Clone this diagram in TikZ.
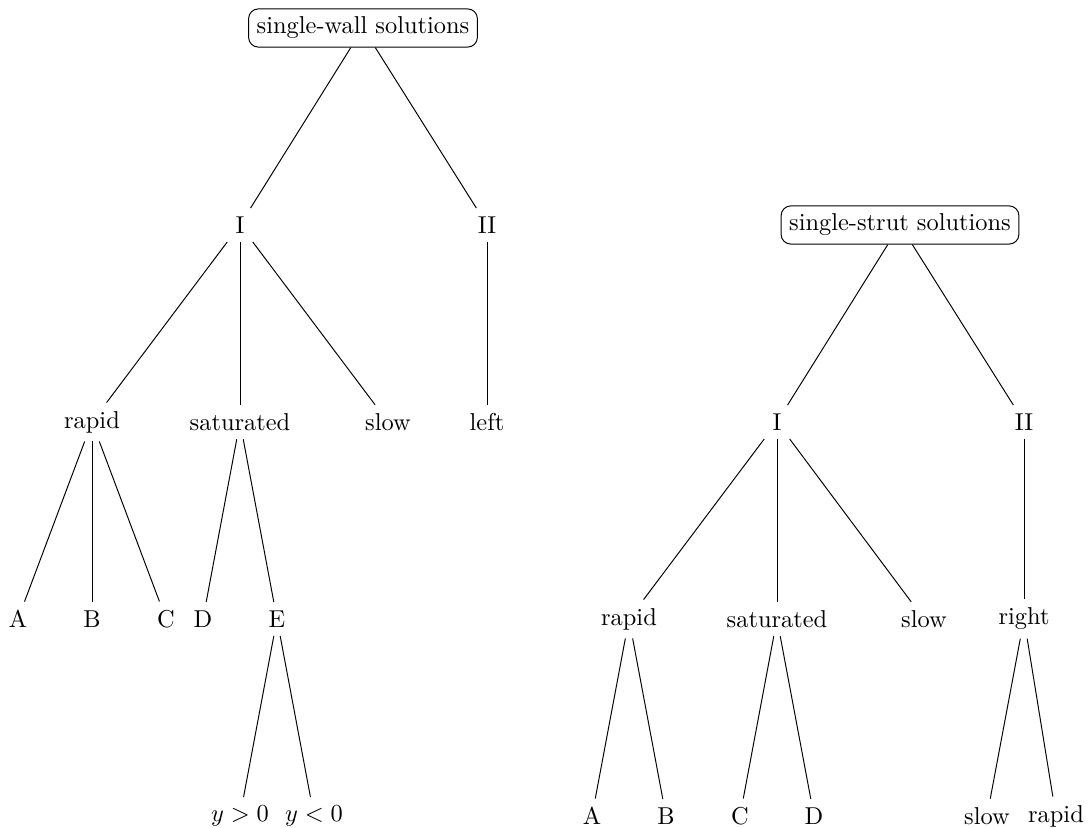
\documentclass[tikz,border=0pt]{standalone}
\begin{document}
\begin{tikzpicture}[x=0.4098pt,y=-0.4098pt,
  rootbox/.style={draw,rounded corners=4pt,inner sep=0.333em},
  lbl/.style={inner sep=0.333em},
  conn/.style={line width=0.4pt}]
\useasboundingbox (0,0) rectangle (1091,828);
% left tree
\node[rootbox] (wroot) at (363,28) {single-wall solutions};
\node[lbl] (wI) at (240,225) {I};
\node[lbl] (wII) at (487,225) {II};
\node[lbl] (wrapid) at (92,422) {rapid};
\node[lbl] (wsat) at (240,422) {saturated};
\node[lbl] (wslow) at (388,422) {slow};
\node[lbl] (wleft) at (487,422) {left};
\node[lbl] (wA) at (18,619) {A};
\node[lbl] (wB) at (92,619) {B};
\node[lbl] (wC) at (166,619) {C};
\node[lbl] (wD) at (203,619) {D};
\node[lbl] (wE) at (277,619) {E};
\node[lbl] (wyp) at (240,816) {$y>0$};
\node[lbl] (wyn) at (314,816) {$y<0$};
\draw[conn] (wroot) -- (wI);
\draw[conn] (wroot) -- (wII);
\draw[conn] (wI) -- (wrapid);
\draw[conn] (wI) -- (wsat);
\draw[conn] (wI) -- (wslow);
\draw[conn] (wII) -- (wleft);
\draw[conn] (wrapid) -- (wA);
\draw[conn] (wrapid) -- (wB);
\draw[conn] (wrapid) -- (wC);
\draw[conn] (wsat) -- (wD);
\draw[conn] (wsat) -- (wE);
\draw[conn] (wE) -- (wyp);
\draw[conn] (wE) -- (wyn);
% right tree
\node[rootbox] (sroot) at (900,225) {single-strut solutions};
\node[lbl] (sI) at (777,422) {I};
\node[lbl] (sII) at (1024,422) {II};
\node[lbl] (srapid) at (629,619) {rapid};
\node[lbl] (ssat) at (777,619) {saturated};
\node[lbl] (sslow) at (924,619) {slow};
\node[lbl] (sright) at (1024,619) {right};
\node[lbl] (sA) at (592,816) {A};
\node[lbl] (sB) at (666,816) {B};
\node[lbl] (sC) at (740,816) {C};
\node[lbl] (sD) at (814,816) {D};
\node[lbl] (sslow2) at (987,816) {slow};
\node[lbl] (srapid2) at (1056,816) {rapid};
\draw[conn] (sroot) -- (sI);
\draw[conn] (sroot) -- (sII);
\draw[conn] (sI) -- (srapid);
\draw[conn] (sI) -- (ssat);
\draw[conn] (sI) -- (sslow);
\draw[conn] (sII) -- (sright);
\draw[conn] (srapid) -- (sA);
\draw[conn] (srapid) -- (sB);
\draw[conn] (ssat) -- (sC);
\draw[conn] (ssat) -- (sD);
\draw[conn] (sright) -- (sslow2);
\draw[conn] (sright) -- (srapid2);
\end{tikzpicture}
\end{document}
